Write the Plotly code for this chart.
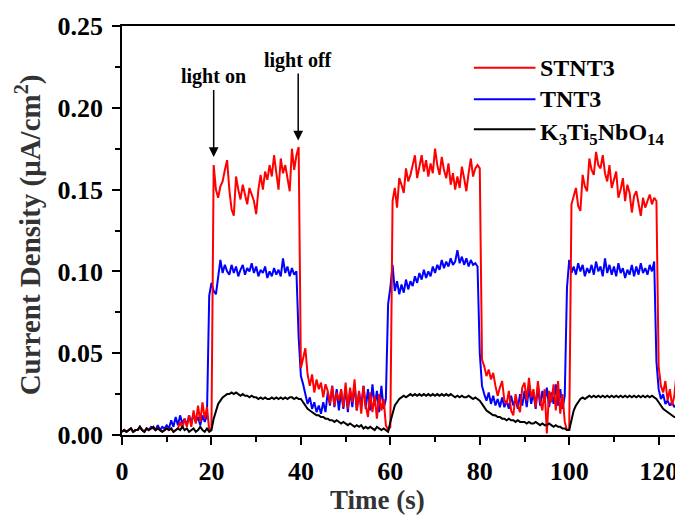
import numpy as np
import plotly.graph_objects as go

# sampling step of the recorded transient (s)
step_s = 0.5

# STNT3 current density (uA/cm^2), one row = 5 s
stnt3 = [
    0.002, 0.003, 0.002, 0.003, 0.004, 0.002, 0.003, 0.003, 0.005, 0.003,
    0.002, 0.004, 0.003, 0.004, 0.005, 0.003, 0.004, 0.003, 0.002, 0.003,
    0.004, 0.003, 0.004, 0.002, 0.003, 0.004, 0.008, 0.004, 0.010, 0.005,
    0.012, 0.005, 0.015, 0.007, 0.018, 0.008, 0.020, 0.010, 0.017, 0.003,
    0.004, 0.165, 0.150, 0.145, 0.152, 0.155, 0.162, 0.168, 0.150, 0.138,
    0.134, 0.158, 0.150, 0.144, 0.153, 0.146, 0.141, 0.151, 0.147, 0.143,
    0.135, 0.150, 0.159, 0.150, 0.161, 0.156, 0.165, 0.158, 0.171, 0.160,
    0.150, 0.169, 0.160, 0.165, 0.158, 0.149, 0.175, 0.162, 0.171, 0.176,
    0.041, 0.048, 0.053, 0.037, 0.030, 0.037, 0.026, 0.034, 0.028, 0.032,
    0.023, 0.031, 0.027, 0.019, 0.030, 0.018, 0.026, 0.021, 0.028, 0.017,
    0.032, 0.016, 0.029, 0.020, 0.034, 0.015, 0.027, 0.013, 0.030, 0.018,
    0.011, 0.026, 0.014, 0.024, 0.010, 0.025, 0.015, 0.022, 0.006, 0.003,
    0.005, 0.143, 0.151, 0.139, 0.157, 0.153, 0.148, 0.163, 0.155, 0.159,
    0.166, 0.171, 0.157, 0.164, 0.171, 0.161, 0.168, 0.158, 0.166, 0.160,
    0.175, 0.165, 0.159, 0.170, 0.162, 0.157, 0.166, 0.153, 0.160, 0.150,
    0.158, 0.151, 0.164, 0.157, 0.149, 0.160, 0.169, 0.158, 0.163, 0.165,
    0.163, 0.046, 0.042, 0.036, 0.040, 0.034, 0.038, 0.030, 0.024, 0.029,
    0.033, 0.021, 0.019, 0.027, 0.015, 0.012, 0.025, 0.018, 0.014, 0.029,
    0.032, 0.021, 0.035, 0.023, 0.028, 0.017, 0.033, 0.021, 0.015, 0.028,
    0.001, 0.027, 0.020, 0.031, 0.015, 0.033, 0.013, 0.025, 0.008, 0.003,
    0.003, 0.141, 0.146, 0.151, 0.140, 0.137, 0.159, 0.152, 0.149, 0.169,
    0.162, 0.159, 0.173, 0.165, 0.163, 0.171, 0.160, 0.155, 0.165, 0.151,
    0.156, 0.161, 0.145, 0.150, 0.157, 0.143, 0.153, 0.148, 0.136, 0.146,
    0.149, 0.140, 0.134, 0.145, 0.139, 0.143, 0.147, 0.141, 0.145, 0.143,
    0.042, 0.030, 0.026, 0.033, 0.021, 0.028, 0.018, 0.024, 0.038, 0.030,
]

# TNT3 current density (uA/cm^2)
tnt3 = [
    0.002, 0.003, 0.002, 0.003, 0.004, 0.002, 0.003, 0.003, 0.005, 0.003,
    0.002, 0.004, 0.003, 0.005, 0.004, 0.003, 0.006, 0.003, 0.005, 0.004,
    0.006, 0.004, 0.009, 0.005, 0.011, 0.006, 0.012, 0.007, 0.010, 0.006,
    0.012, 0.007, 0.013, 0.008, 0.011, 0.006, 0.012, 0.008, 0.012, 0.085,
    0.093, 0.088, 0.086, 0.095, 0.107, 0.099, 0.104, 0.100, 0.098, 0.104,
    0.099, 0.103, 0.097, 0.101, 0.104, 0.098, 0.102, 0.100, 0.105, 0.099,
    0.103, 0.097, 0.101, 0.099, 0.103, 0.096, 0.100, 0.097, 0.102, 0.098,
    0.101, 0.097, 0.108, 0.099, 0.103, 0.097, 0.102, 0.098, 0.100, 0.060,
    0.036, 0.031, 0.025, 0.019, 0.023, 0.016, 0.020, 0.014, 0.018, 0.013,
    0.020, 0.014, 0.026, 0.018, 0.030, 0.017, 0.028, 0.015, 0.027, 0.016,
    0.029, 0.014, 0.027, 0.017, 0.031, 0.015, 0.026, 0.018, 0.030, 0.016,
    0.028, 0.015, 0.031, 0.018, 0.027, 0.014, 0.030, 0.016, 0.022, 0.080,
    0.090, 0.104, 0.088, 0.094, 0.086, 0.092, 0.087, 0.095, 0.089, 0.094,
    0.091, 0.097, 0.093, 0.099, 0.095, 0.101, 0.096, 0.100, 0.097, 0.103,
    0.099, 0.104, 0.101, 0.107, 0.102, 0.106, 0.103, 0.108, 0.104, 0.106,
    0.113, 0.105, 0.109, 0.104, 0.108, 0.103, 0.107, 0.104, 0.105, 0.103,
    0.050, 0.030, 0.025, 0.021, 0.026, 0.019, 0.024, 0.018, 0.022, 0.017,
    0.023, 0.017, 0.021, 0.016, 0.024, 0.018, 0.022, 0.016, 0.025, 0.018,
    0.027, 0.017, 0.029, 0.019, 0.026, 0.016, 0.030, 0.018, 0.027, 0.020,
    0.029, 0.017, 0.026, 0.019, 0.031, 0.018, 0.028, 0.016, 0.024, 0.090,
    0.107, 0.099, 0.103, 0.098, 0.105, 0.100, 0.104, 0.097, 0.102, 0.099,
    0.104, 0.098, 0.106, 0.100, 0.103, 0.097, 0.108, 0.099, 0.104, 0.098,
    0.103, 0.097, 0.105, 0.099, 0.102, 0.096, 0.101, 0.098, 0.104, 0.097,
    0.103, 0.098, 0.105, 0.099, 0.102, 0.098, 0.104, 0.100, 0.106, 0.045,
    0.028, 0.022, 0.025, 0.019, 0.021, 0.018, 0.020, 0.017, 0.019, 0.016,
]

# K3Ti5NbO14 current density (uA/cm^2)
k3ti5nbo14 = [
    0.002, 0.003, 0.002, 0.003, 0.004, 0.002, 0.003, 0.003, 0.005, 0.003,
    0.002, 0.004, 0.003, 0.004, 0.005, 0.003, 0.004, 0.003, 0.002, 0.003,
    0.004, 0.003, 0.004, 0.002, 0.003, 0.004, 0.003, 0.005, 0.003, 0.004,
    0.002, 0.003, 0.004, 0.002, 0.003, 0.005, 0.003, 0.002, 0.004, 0.002,
    0.003, 0.010, 0.015, 0.019, 0.021, 0.023, 0.024, 0.025, 0.025, 0.026,
    0.025, 0.026, 0.025, 0.024, 0.025, 0.024, 0.024, 0.023, 0.024, 0.023,
    0.023, 0.022, 0.023, 0.022, 0.023, 0.022, 0.022, 0.023, 0.022, 0.023,
    0.022, 0.023, 0.022, 0.023, 0.022, 0.023, 0.023, 0.022, 0.023, 0.022,
    0.022, 0.020, 0.018, 0.016, 0.015, 0.014, 0.013, 0.012, 0.012, 0.011,
    0.011, 0.010, 0.010, 0.009, 0.009, 0.008, 0.009, 0.008, 0.007, 0.008,
    0.007, 0.006, 0.007, 0.006, 0.005, 0.006, 0.005, 0.006, 0.004, 0.005,
    0.004, 0.005, 0.004, 0.003, 0.005, 0.004, 0.003, 0.004, 0.003, 0.002,
    0.008, 0.014, 0.018, 0.020, 0.022, 0.023, 0.024, 0.023, 0.024, 0.025,
    0.024, 0.025, 0.024, 0.025, 0.024, 0.025, 0.024, 0.025, 0.024, 0.025,
    0.024, 0.025, 0.024, 0.025, 0.024, 0.025, 0.024, 0.025, 0.024, 0.023,
    0.024, 0.023, 0.024, 0.023, 0.023, 0.024, 0.023, 0.022, 0.023, 0.022,
    0.021, 0.019, 0.017, 0.015, 0.014, 0.013, 0.012, 0.012, 0.011, 0.011,
    0.010, 0.010, 0.009, 0.010, 0.009, 0.009, 0.008, 0.009, 0.008, 0.008,
    0.008, 0.007, 0.008, 0.007, 0.007, 0.008, 0.007, 0.006, 0.007, 0.006,
    0.006, 0.007, 0.006, 0.005, 0.006, 0.005, 0.005, 0.004, 0.004, 0.003,
    0.003, 0.010, 0.015, 0.018, 0.020, 0.022, 0.023, 0.022, 0.023, 0.024,
    0.023, 0.024, 0.023, 0.024, 0.023, 0.024, 0.023, 0.024, 0.023, 0.024,
    0.023, 0.024, 0.023, 0.024, 0.023, 0.024, 0.023, 0.024, 0.023, 0.024,
    0.023, 0.024, 0.023, 0.024, 0.023, 0.024, 0.023, 0.024, 0.023, 0.022,
    0.020, 0.018, 0.016, 0.015, 0.014, 0.013, 0.012, 0.011, 0.011, 0.010,
]

time_s = np.arange(len(stnt3)) * step_s

series_names = ["STNT3", "TNT3", "K<sub>3</sub>Ti<sub>5</sub>NbO<sub>14</sub>"]
series_values = [stnt3, tnt3, k3ti5nbo14]
series_colors = ["#ff0000", "#0000ff", "#000000"]

x_ticks = [0, 20, 40, 60, 80, 100, 120]
y_ticks = [0.00, 0.05, 0.10, 0.15, 0.20, 0.25]
y_tick_labels = ["0.00", "0.05", "0.10", "0.15", "0.20", "0.25"]

FONT = "Liberation Serif"

fig = go.Figure()
# drawing order: TNT3, STNT3, then K3Ti5NbO14 on top
for idx in [1, 0, 2]:
    fig.add_trace(go.Scatter(
        x=time_s, y=series_values[idx], mode="lines", name=series_names[idx],
        line=dict(color=series_colors[idx], width=2),
        showlegend=False,
    ))

axis_common = dict(
    showline=True, linecolor="black", linewidth=1.6, mirror=True,
    ticks="outside", ticklen=8, tickwidth=1.5, tickcolor="black",
    showgrid=False, zeroline=False,
    tickfont=dict(family=FONT, size=26, color="black", weight="bold"),
)

fig.update_xaxes(range=[0, 124.1], tickvals=x_ticks, ticklabelstandoff=4,
                 minor=dict(dtick=10, tick0=0, ticks="outside", ticklen=5,
                            tickwidth=1.5, tickcolor="black"),
                 **axis_common)
fig.update_yaxes(range=[0, 0.25], tickvals=y_ticks, ticktext=y_tick_labels,
                 ticklabelstandoff=4,
                 minor=dict(dtick=0.025, tick0=0, ticks="outside", ticklen=5,
                            tickwidth=1.5, tickcolor="black"),
                 **axis_common)

annotations = [
    dict(text="Time (s)", xref="paper", yref="paper", x=0.4596, y=-0.160,
         xanchor="center", yanchor="middle", showarrow=False,
         font=dict(family=FONT, size=27, color="#333333", weight="bold")),
    dict(text="Current Density (\u03bcA/cm<sup>2</sup>)", xref="paper", yref="paper",
         x=-0.168, y=0.49, xanchor="center", yanchor="middle", textangle=-90,
         showarrow=False,
         font=dict(family=FONT, size=29, color="#333333", weight="bold")),
    dict(text="light on", x=20.5, y=0.170, xref="x", yref="y",
         ax=0, ay=-80, showarrow=True, arrowhead=2, arrowsize=1.3,
         arrowwidth=1.5, arrowcolor="black",
         font=dict(family=FONT, size=20, color="black", weight="bold")),
    dict(text="light off", x=39.4, y=0.180, xref="x", yref="y",
         ax=0, ay=-80, showarrow=True, arrowhead=2, arrowsize=1.3,
         arrowwidth=1.5, arrowcolor="black",
         font=dict(family=FONT, size=20, color="black", weight="bold")),
]

# hand-placed legend
legend_y = [0.898, 0.821, 0.7476]
shapes = []
for i in range(3):
    shapes.append(dict(type="line", xref="paper", yref="paper",
                       x0=0.634, x1=0.745, y0=legend_y[i], y1=legend_y[i],
                       line=dict(color=series_colors[i], width=2)))
    annotations.append(dict(text=series_names[i], xref="paper", yref="paper",
                            x=0.7504, y=legend_y[i] - (0.012 if i == 2 else 0),
                            xanchor="left", yanchor="middle", showarrow=False,
                            font=dict(family=FONT, size=24, color="black",
                                      weight="bold")))

# the page body adds an 8 px offset, so the figure is 8 px smaller
fig.update_layout(
    width=675, height=507,
    margin=dict(l=114, r=4, t=15, b=80),
    paper_bgcolor="white", plot_bgcolor="white",
    annotations=annotations, shapes=shapes,
    showlegend=False,
)

fig.write_html("out.html")
